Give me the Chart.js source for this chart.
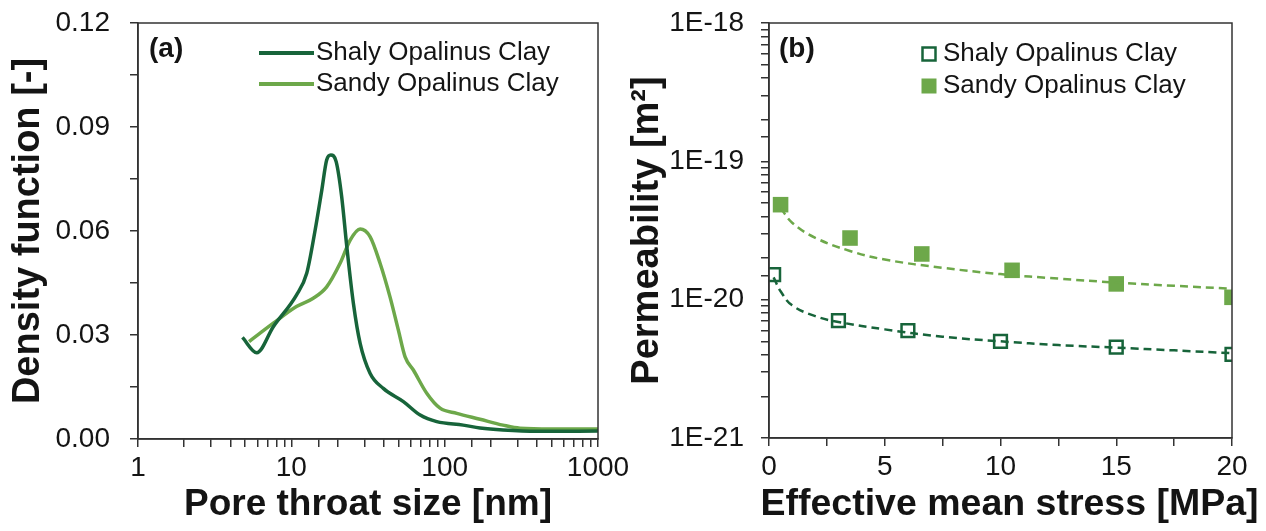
<!DOCTYPE html>
<html><head><meta charset="utf-8">
<script src="https://cdn.jsdelivr.net/npm/chart.js@4/dist/chart.umd.min.js"></script>
<style>
html,body{margin:0;padding:0;background:#fff;}
#wrap{position:relative;width:1266px;height:531px;overflow:hidden;background:#fff;}
canvas{position:absolute;top:0;}
#c1{left:0;}
#c2{left:620px;}
</style></head>
<body><div id="wrap"><canvas id="c1" width="690" height="531"></canvas><canvas id="c2" width="646" height="531"></canvas></div>
<script>
// ---- Panel (a): pore throat size distribution ----
const shalyPoreSize = [4.8, 5.95, 7.63, 10.8, 12.6, 14.3, 15.8, 17.0, 18.1, 19.6, 21.3, 23.0, 25.4, 28.1, 32.6, 39.8, 53.8, 69.2, 88.8, 132, 170, 240, 400, 1000];
const shalyDensity  = [0.0293, 0.0249, 0.0324, 0.0415, 0.0478, 0.0603, 0.0718, 0.0805, 0.0819, 0.0800, 0.0699, 0.0555, 0.0391, 0.0276, 0.0190, 0.0146, 0.0108, 0.0069, 0.0050, 0.0040, 0.0032, 0.0026, 0.0022, 0.0023];
const sandyPoreSize = [5.3, 7.63, 10.8, 13.9, 17.0, 20.8, 24.2, 28.1, 32.6, 37.9, 44.0, 49.9, 55.2, 62.5, 76.4, 93.3, 120, 170, 240, 310, 500, 1000];
const sandyDensity  = [0.0281, 0.0334, 0.0382, 0.0406, 0.0439, 0.0507, 0.0574, 0.0606, 0.0584, 0.0507, 0.0410, 0.0314, 0.0237, 0.0199, 0.0132, 0.0089, 0.0074, 0.0057, 0.0040, 0.0031, 0.0029, 0.0029];
const xTickLabelsA = ['1', '10', '100', '1000'];

// ---- Panel (b): permeability vs effective mean stress ----
const shalyStress = [0.2, 3.0, 6.0, 10.0, 15.0, 20.0];
const shalyPerm   = [1.52e-20, 7.05e-21, 5.98e-21, 5.0e-21, 4.54e-21, 4.03e-21];
const sandyStress = [0.5, 3.5, 6.6, 10.5, 15.0, 20.0];
const sandyPerm   = [4.86e-20, 2.79e-20, 2.14e-20, 1.63e-20, 1.30e-20, 1.04e-20];
// dashed trend curves
const shalyTrendStress = [0.2, 0.5, 1, 2, 3, 5, 7.5, 10, 12.5, 15, 17.5, 20];
const shalyTrendPerm   = [1.45e-20, 1.15e-20, 9.1e-21, 7.6e-21, 6.9e-21, 6.1e-21, 5.4e-21, 5.0e-21, 4.7e-21, 4.5e-21, 4.3e-21, 4.1e-21];
const sandyTrendStress = [0.5, 1, 2, 3.5, 5, 7.5, 10, 12.5, 15, 17.5, 20];
const sandyTrendPerm   = [4.6e-20, 3.6e-20, 2.8e-20, 2.25e-20, 1.95e-20, 1.7e-20, 1.53e-20, 1.42e-20, 1.33e-20, 1.26e-20, 1.2e-20];

const SHALY = '#17643a';
const SANDY = '#6da84a';
const AXIS = '#333333';
const TXT = '#141414';
const FONT = "'Liberation Sans', Arial, sans-serif";

function pts(xs, ys){ return xs.map((x,i)=>({x:x, y:ys[i]})); }

const frame = {
  id:'frame',
  afterDraw(chart, args, opts){
    const {ctx, chartArea:a} = chart;
    ctx.save();
    ctx.strokeStyle = AXIS; ctx.lineWidth = 1.5;
    ctx.strokeRect(a.left, a.top, a.right-a.left, a.bottom-a.top);
    ctx.fillStyle = TXT;
    ctx.font = "bold 28px " + FONT;
    ctx.textBaseline = 'middle'; ctx.textAlign = 'left';
    ctx.fillText(opts.label, opts.lx, opts.ly);
    ctx.font = "26px " + FONT;
    opts.items.forEach(it => {
      if (it.type === 'line') {
        ctx.strokeStyle = it.color; ctx.lineWidth = 4;
        ctx.beginPath(); ctx.moveTo(it.x0, it.y); ctx.lineTo(it.x1, it.y); ctx.stroke();
      } else if (it.type === 'hollow') {
        ctx.strokeStyle = it.color; ctx.lineWidth = 2.5;
        ctx.strokeRect(it.cx-6.5, it.y-6.5, 13, 13);
      } else {
        ctx.fillStyle = it.color; ctx.fillRect(it.cx-7.5, it.y-7.5, 15, 15);
      }
      ctx.fillStyle = TXT;
      ctx.fillText(it.text, it.tx, it.y);
    });
    if (opts.xTitle) {
      ctx.font = "bold 37.5px " + FONT;
      ctx.textAlign = 'center';
      ctx.fillStyle = TXT;
      ctx.fillText(opts.xTitle, (a.left + a.right)/2 + 9, 505);
    }
    ctx.restore();
  }
};

const gridStyle = {drawOnChartArea:false, drawTicks:true, tickLength:8, color:AXIS, tickColor:AXIS, lineWidth:1.5};
const borderStyle = {color:AXIS, width:1.5};
function fixY(w){ return function(s){ s.width = w; s.paddingTop = 0; s.paddingBottom = 0; }; }
function fixX(h){ return function(s){ s.height = h; s.paddingLeft = 0; s.paddingRight = 0; }; }

new Chart(document.getElementById('c1'), {
  type:'scatter',
  data:{datasets:[
    {label:'Shaly Opalinus Clay', data:pts(shalyPoreSize, shalyDensity), showLine:true, borderColor:SHALY, borderWidth:3.5, pointRadius:0, cubicInterpolationMode:'monotone'},
    {label:'Sandy Opalinus Clay', data:pts(sandyPoreSize, sandyDensity), showLine:true, borderColor:SANDY, borderWidth:3.5, pointRadius:0, cubicInterpolationMode:'monotone'}
  ]},
  options:{
    responsive:false, animation:false, devicePixelRatio:1,
    layout:{padding:{top:23, right:92, left:0, bottom:0}},
    plugins:{legend:{display:false}, tooltip:{enabled:false},
      frame:{label:'(a)', lx:149, ly:49, items:[
        {type:'line', color:SHALY, x0:259, x1:314, y:53, tx:316, text:'Shaly Opalinus Clay'},
        {type:'line', color:SANDY, x0:259, x1:314, y:84, tx:316, text:'Sandy Opalinus Clay'}
      ]}},
    scales:{
      x:{type:'logarithmic', min:1, max:1000,
        afterFit:fixX(92),
        grid:gridStyle, border:borderStyle,
        ticks:{autoSkip:false, maxRotation:0, padding:4, color:TXT, font:{family:FONT, size:28},
          callback(v){ const s = String(Math.round(v)); return xTickLabelsA.includes(s) && Math.abs(v-Math.round(v))<1e-9 ? s : ''; }},
        title:{display:true, text:'Pore throat size [nm]', color:TXT, font:{family:FONT, size:37, weight:'bold'}, padding:{top:0,bottom:4}}
      },
      y:{type:'linear', min:0, max:0.12,
        afterFit:fixY(138),
        grid:gridStyle, border:borderStyle,
        ticks:{stepSize:0.015, autoSkip:false, padding:20, color:TXT, font:{family:FONT, size:28},
          callback(v, i){ return i % 2 === 0 ? v.toFixed(2) : ''; }},
        title:{display:true, text:'Density function [-]', color:TXT, font:{family:FONT, size:38, weight:'bold'}, padding:{top:6,bottom:0}}
      }
    }
  },
  plugins:[frame]
});

new Chart(document.getElementById('c2'), {
  type:'scatter',
  data:{datasets:[
    {label:'Shaly trend', data:pts(shalyTrendStress, shalyTrendPerm), showLine:true, borderColor:SHALY, borderWidth:2.5, borderDash:[8,5], pointRadius:0, tension:0.4},
    {label:'Sandy trend', data:pts(sandyTrendStress, sandyTrendPerm), showLine:true, borderColor:SANDY, borderWidth:2.5, borderDash:[8,5], pointRadius:0, tension:0.4},
    {label:'Shaly Opalinus Clay', data:pts(shalyStress, shalyPerm), pointStyle:'rect', pointRadius:9, borderColor:SHALY, borderWidth:2.5, backgroundColor:'rgba(0,0,0,0)'},
    {label:'Sandy Opalinus Clay', data:pts(sandyStress, sandyPerm), pointStyle:'rect', pointRadius:11, borderColor:SANDY, borderWidth:0, backgroundColor:SANDY}
  ]},
  options:{
    responsive:false, animation:false, devicePixelRatio:1,
    layout:{padding:{top:23, right:34, left:0, bottom:0}},
    plugins:{legend:{display:false}, tooltip:{enabled:false},
      frame:{label:'(b)', lx:159, ly:49, xTitle:'Effective mean stress [MPa]', items:[
        {type:'hollow', color:SHALY, cx:309, y:54, tx:323, text:'Shaly Opalinus Clay'},
        {type:'fill', color:SANDY, cx:309, y:86, tx:323, text:'Sandy Opalinus Clay'}
      ]}},
    scales:{
      x:{type:'linear', min:0, max:20,
        afterFit:fixX(93),
        grid:gridStyle, border:borderStyle,
        ticks:{stepSize:2.5, autoSkip:false, maxRotation:0, padding:4, color:TXT, font:{family:FONT, size:28},
          callback(v){ return Math.abs(v % 5) < 1e-9 ? String(v) : ''; }},
        title:{display:false, text:'Effective mean stress [MPa]', color:TXT, font:{family:FONT, size:37, weight:'bold'}, padding:{top:0,bottom:4}}
      },
      y:{type:'logarithmic', min:1e-21, max:1e-18,
        afterFit:fixY(149),
        grid:gridStyle, border:borderStyle,
        ticks:{autoSkip:false, padding:17, color:TXT, font:{family:FONT, size:28},
          callback(v){ const l = Math.log10(v); const r = Math.round(l); return Math.abs(l-r) < 1e-6 ? '1E' + r : ''; }},
        title:{display:true, text:'Permeability [m²]', color:TXT, font:{family:FONT, size:38, weight:'bold'}, padding:{top:5,bottom:0}}
      }
    }
  },
  plugins:[frame]
});
</script></body></html>
